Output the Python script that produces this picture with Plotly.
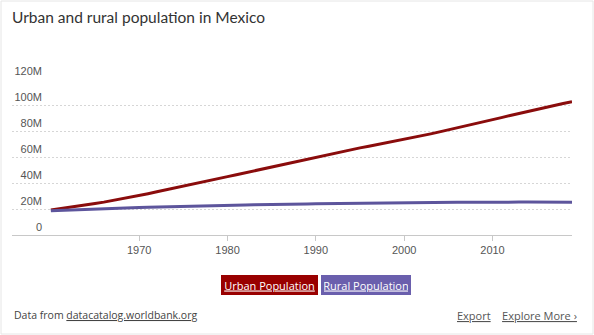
import plotly.graph_objects as go

years = list(range(1960, 2020))
urban = [19.2, 20.1, 21.0, 22.0, 23.1, 24.2, 25.3, 26.5, 27.8, 29.1,
         30.4, 31.8, 33.2, 34.6, 36.0, 37.4, 38.9, 40.4, 41.9, 43.4,
         44.9, 46.4, 47.9, 49.4, 50.8, 52.3, 53.8, 55.3, 56.8, 58.4,
         59.9, 61.4, 62.9, 64.3, 65.7, 67.0, 68.3, 69.6, 70.9, 72.2,
         73.5, 74.9, 76.3, 77.8, 79.3, 80.8, 82.3, 83.9, 85.5, 87.1,
         88.7, 90.3, 91.9, 93.5, 95.1, 96.6, 98.1, 99.6, 101.1, 102.5]
rural = [18.6, 18.8, 19.0, 19.3, 19.5, 19.8, 20.1, 20.4, 20.6, 20.9,
         21.1, 21.4, 21.6, 21.8, 22.0, 22.2, 22.3, 22.5, 22.6, 22.7,
         22.8, 23.0, 23.1, 23.2, 23.4, 23.5, 23.6, 23.7, 23.8, 23.9,
         24.0, 24.1, 24.2, 24.4, 24.5, 24.6, 24.7, 24.8, 24.9, 25.0,
         25.0, 25.0, 25.1, 25.1, 25.1, 25.2, 25.2, 25.2, 25.3, 25.3,
         25.3, 25.3, 25.3, 25.3, 25.3, 25.2, 25.2, 25.2, 25.1, 25.1]
urban_pop = [v * 1e6 for v in urban]
rural_pop = [v * 1e6 for v in rural]

x_ticks = [1970, 1980, 1990, 2000, 2010]
y_ticks = [0, 20e6, 40e6, 60e6, 80e6, 100e6, 120e6]
y_labels = ["0", "20M", "40M", "60M", "80M", "100M", "120M"]

URBAN_C = "#8a0c0c"
RURAL_C = "#5d559c"

W, H = 594, 335
L, R, T, B = 12, 22, 79, 100

fig = go.Figure()
fig.add_trace(go.Scatter(x=years, y=urban_pop, mode="lines", name="Urban Population",
                         line=dict(color=URBAN_C, width=3)))
fig.add_trace(go.Scatter(x=years, y=rural_pop, mode="lines", name="Rural Population",
                         line=dict(color=RURAL_C, width=3)))

ph = H - T - B
pw = W - L - R

fig.update_layout(
    width=W, height=H,
    margin=dict(l=L, r=R, t=T, b=B, autoexpand=False),
    paper_bgcolor="white", plot_bgcolor="white",
    showlegend=False,
    font=dict(family="Open Sans, Arial", color="#555"),
    title=dict(text="Urban and rural population in Mexico", x=12 / W, xanchor="left",
               xref="container", y=1 - 18 / H, yanchor="middle", yref="container",
               font=dict(size=15.5, color="#333", family="Lato, Open Sans")),
    xaxis=dict(range=[1955.6, 2019.0], tickvals=x_ticks, showgrid=False,
               showline=True, linecolor="#c8c8c8", linewidth=1,
               ticks="outside", ticklen=5, tickcolor="#c8c8c8",
               tickfont=dict(size=11, color="#555", family="Arial"),
               zeroline=False, fixedrange=True),
    yaxis=dict(range=[0, 120e6], tickvals=y_ticks, ticktext=y_labels,
               anchor="free", position=(42 - L) / pw, side="left",
               ticklabelposition="outside top",
               showgrid=True, gridcolor="#d6d6d6", griddash="2px,2px", gridwidth=1,
               showline=False, zeroline=False, ticks="",
               tickfont=dict(size=11, color="#555", family="Arial")),
)

# card border
fig.add_shape(type="rect", xref="paper", yref="paper",
              x0=-(L - 1) / pw, x1=1 + (R - 1) / pw,
              y0=-(B - 1) / ph, y1=1 + (T - 1) / ph,
              line=dict(color="#e6e6e6", width=1), fillcolor="rgba(0,0,0,0)", layer="below")

# legend buttons
fig.add_annotation(xref="paper", yref="paper", x=(269.5 - L) / pw, y=-(285 - T - ph) / ph,
                   text="<u>Urban Population</u>", showarrow=False,
                   font=dict(size=11, color="white", family="Open Sans"),
                   bgcolor="#990000", borderpad=2, bordercolor="#990000",
                   width=91, height=14, align="center",
                   xanchor="center", yanchor="middle")
fig.add_annotation(xref="paper", yref="paper", x=(366 - L) / pw, y=-(285 - T - ph) / ph,
                   text="<u>Rural Population</u>", showarrow=False,
                   font=dict(size=11, color="white", family="Open Sans"),
                   bgcolor="#6a5fad", borderpad=2, bordercolor="#6a5fad",
                   width=84, height=14, align="center",
                   xanchor="center", yanchor="middle")

# footer
fig.add_annotation(xref="paper", yref="paper", x=0, y=-(315 - T - ph) / ph,
                   text="Data from <u>datacatalog.worldbank.org</u>", showarrow=False,
                   font=dict(size=10.5, color="#444", family="Open Sans"),
                   xanchor="left", yanchor="middle")
fig.add_annotation(xref="paper", yref="paper", x=(579 - L) / pw, y=-(315 - T - ph) / ph,
                   text="<u>Export</u>    <u>Explore More ›</u>", showarrow=False,
                   font=dict(size=11, color="#555", family="Open Sans"),
                   xanchor="right", yanchor="middle")

fig.write_html("out.html")
